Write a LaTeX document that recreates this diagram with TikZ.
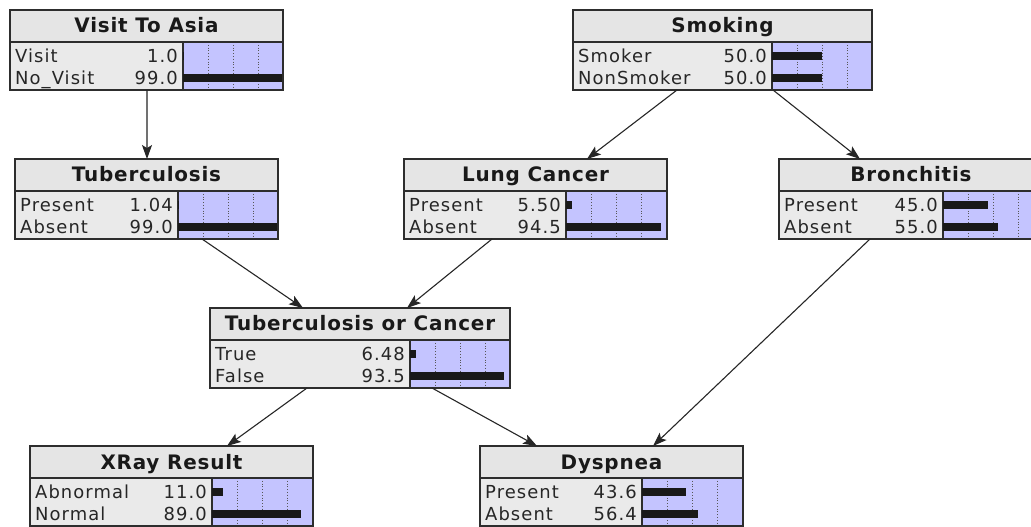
\documentclass[tikz,border=0pt]{standalone}
\usepackage{fontspec}
\setmainfont{DejaVu Sans}
\newfontfamily\titlefont{DejaVu Sans}[LetterSpace=4]
\newfontfamily\bodyfont{DejaVu Sans}[LetterSpace=6]
\usetikzlibrary{arrows.meta}
\definecolor{hdrgray}{RGB}{229,229,229}
\definecolor{bodygray}{RGB}{234,234,234}
\definecolor{lav}{RGB}{196,196,255}
\definecolor{framec}{RGB}{45,45,45}
\tikzset{
  boxframe/.style={draw=framec, line width=1.3pt, inner sep=0pt, outer sep=0pt},
  frameline/.style={draw=framec, line width=1.3pt},
  gridl/.style={draw=framec!80, dotted, line width=0.8pt},
  barfill/.style={fill=black!90},
  titletext/.style={font=\titlefont\bfseries\fontsize{20}{20}\selectfont, text=black!90, inner sep=0pt, anchor=base},
  labtext/.style={font=\bodyfont\fontsize{18}{18}\selectfont, text=black!85, inner sep=0pt, anchor=base west},
  valtext/.style={font=\bodyfont\fontsize{18}{18}\selectfont, text=black!85, inner sep=0pt, anchor=base east},
  link/.style={draw=black!85, line width=1.1pt, -{Stealth[length=14pt,width=10pt,inset=3pt]}},
}
% #1 name, #2 left, #3 top, #4 right, #5 divider, #6 title
\newcommand\bnbox[6]{%
  \fill[hdrgray] (#2,#3) rectangle (#4,{#3+32});
  \fill[bodygray] (#2,{#3+32}) rectangle (#5,{#3+80});
  \fill[lav] (#5,{#3+32}) rectangle (#4,{#3+80});
  \foreach \g in {25,50,75}{\draw[gridl] ({#5+\g},{#3+32}) -- ({#5+\g},{#3+80});}
  \draw[frameline] (#2,{#3+32}) -- (#4,{#3+32});
  \draw[frameline] (#5,{#3+32}) -- (#5,{#3+80});
  \pgfmathsetmacro\bnw{#4-#2}
  \node[boxframe, minimum width=\bnw bp, minimum height=80bp, anchor=north west] (#1) at (#2,#3) {};
  \node[titletext] (#1-title) at ({(#2+#4)/2},{#3+23}) {#6};
}
% #1 name, #2 left, #3 top, #4 divider, #5 row index, #6 label, #7 value, #8 percent
\newcommand\bnrow[8]{%
  \pgfmathsetmacro\bny{#3+46+22*#5}
  \fill[barfill] (#4,{\bny-4}) rectangle ({#4+#8},{\bny+4});
  \node[labtext] (#1-lab#5) at ({#2+5},{\bny+6.5}) {#6};
  \node[valtext] (#1-val#5) at ({#4-5},{\bny+6.5}) {#7};
}
\begin{document}
\begin{tikzpicture}[x=1bp,y=-1bp]
\useasboundingbox (0,0) rectangle (1031,527);
\fill[white] (0,0) rectangle (1031,527);
\clip (0,0) rectangle (1031,527);

\bnbox{asia}{10}{10}{283}{183}{Visit To Asia}
\bnrow{asia}{10}{10}{183}{0}{Visit}{1.0}{1.0}
\bnrow{asia}{10}{10}{183}{1}{No\_Visit}{99.0}{99.0}

\bnbox{smoke}{573}{10}{872}{772}{Smoking}
\bnrow{smoke}{573}{10}{772}{0}{Smoker}{50.0}{50.0}
\bnrow{smoke}{573}{10}{772}{1}{NonSmoker}{50.0}{50.0}

\bnbox{tub}{15}{159}{278}{178}{Tuberculosis}
\bnrow{tub}{15}{159}{178}{0}{Present}{1.04}{1.04}
\bnrow{tub}{15}{159}{178}{1}{Absent}{99.0}{99.0}

\bnbox{lc}{404}{159}{667}{566}{Lung Cancer}
\bnrow{lc}{404}{159}{566}{0}{Present}{5.50}{5.5}
\bnrow{lc}{404}{159}{566}{1}{Absent}{94.5}{94.5}

\bnbox{bron}{779}{159}{1043}{943}{Bronchitis}
\bnrow{bron}{779}{159}{943}{0}{Present}{45.0}{45.0}
\bnrow{bron}{779}{159}{943}{1}{Absent}{55.0}{55.0}

\bnbox{torc}{210}{308}{510}{410}{Tuberculosis or Cancer}
\bnrow{torc}{210}{308}{410}{0}{True}{6.48}{6.48}
\bnrow{torc}{210}{308}{410}{1}{False}{93.5}{93.5}

\bnbox{xray}{30}{446}{313}{212}{XRay Result}
\bnrow{xray}{30}{446}{212}{0}{Abnormal}{11.0}{11.0}
\bnrow{xray}{30}{446}{212}{1}{Normal}{89.0}{89.0}

\bnbox{dys}{480}{446}{743}{642}{Dyspnea}
\bnrow{dys}{480}{446}{642}{0}{Present}{43.6}{43.6}
\bnrow{dys}{480}{446}{642}{1}{Absent}{56.4}{56.4}

% connectors
\draw[link] ([xshift=137bp]asia.south west) -- ([xshift=132bp]tub.north west);
\draw[link] ([xshift=104bp]smoke.south west) -- ([xshift=183bp]lc.north west);
\draw[link] ([xshift=200bp]smoke.south west) -- ([xshift=81bp]bron.north west);
\draw[link] ([xshift=187bp]tub.south west) -- ([xshift=93bp]torc.north west);
\draw[link] ([xshift=88bp]lc.south west) -- ([xshift=197bp]torc.north west);
\draw[link] ([xshift=97bp]torc.south west) -- ([xshift=197bp]xray.north west);
\draw[link] ([xshift=222bp]torc.south west) -- ([xshift=57bp]dys.north west);
\draw[link] ([xshift=91bp]bron.south west) -- ([xshift=173bp]dys.north west);
\end{tikzpicture}
\end{document}
